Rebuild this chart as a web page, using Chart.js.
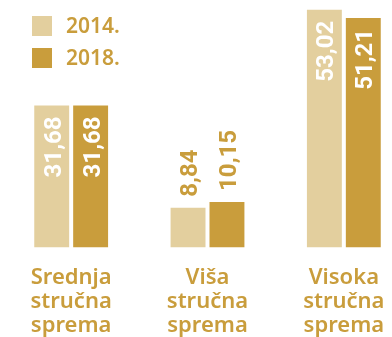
<!DOCTYPE html>
<html>
<head>
<meta charset="utf-8">
<script src="https://cdn.jsdelivr.net/npm/chart.js@4/dist/chart.umd.min.js"></script>
<style>
  html, body { margin: 0; padding: 0; background: #fff; overflow: hidden; }
  #wrap { position: relative; width: 412px; height: 356px; }
</style>
</head>
<body>
<div id="wrap"><canvas id="chart"></canvas></div>
<script>
const categories = [
  ['Srednja', 'stručna', 'sprema'],
  ['Viša', 'stručna', 'sprema'],
  ['Visoka', 'stručna', 'sprema']
];
const years = ['2014.', '2018.'];
const values2014 = [31.68, 8.84, 53.02];
const values2018 = [31.68, 10.15, 51.21];

const lightGold = '#e3cf9e';
const darkGold = '#c99d3c';

// values written with a decimal comma
const fmt = v => v.toFixed(2).replace('.', ',');

// rotated value labels: inside the bar when it is tall enough, above it otherwise
const valueLabels = {
  id: 'valueLabels',
  afterDatasetsDraw(chart) {
    const ctx = chart.ctx;
    ctx.save();
    ctx.font = 'bold 24px Roboto';
    ctx.textBaseline = 'alphabetic';
    chart.data.datasets.forEach((ds, di) => {
      const meta = chart.getDatasetMeta(di);
      meta.data.forEach((bar, i) => {
        const txt = fmt(ds.data[i]);
        const w = ctx.measureText(txt).width;
        const inside = (bar.base - bar.y) > w + 22;
        ctx.save();
        if (inside) {
          ctx.translate(bar.x + 9, bar.y + 11);
          ctx.rotate(-Math.PI / 2);
          ctx.textAlign = 'right';
          ctx.fillStyle = '#fff';
        } else {
          ctx.translate(bar.x + 9, bar.y - 11);
          ctx.rotate(-Math.PI / 2);
          ctx.textAlign = 'left';
          ctx.fillStyle = darkGold;
        }
        ctx.fillText(txt, 0, 0);
        ctx.restore();
      });
    });
    ctx.restore();
  }
};

// square swatch legend in the top-left corner
const cornerLegend = {
  id: 'cornerLegend',
  afterDraw(chart) {
    const ctx = chart.ctx;
    ctx.save();
    ctx.font = '600 21px "Noto Sans"';
    ctx.textBaseline = 'middle';
    chart.data.datasets.forEach((ds, i) => {
      const y = 16 + i * 32;
      ctx.fillStyle = ds.backgroundColor;
      ctx.fillRect(32, y, 20, 20);
      ctx.fillStyle = darkGold;
      ctx.fillText(ds.label, 66, y + 11);
    });
    ctx.restore();
  }
};

new Chart(document.getElementById('chart'), {
  type: 'bar',
  data: {
    labels: categories,
    datasets: [
      { label: years[0], data: values2014, backgroundColor: lightGold },
      { label: years[1], data: values2018, backgroundColor: darkGold }
    ]
  },
  options: {
    responsive: true,
    maintainAspectRatio: false,
    animation: false,
    layout: { padding: { left: 3, right: 0, top: 0, bottom: 0 } },
    datasets: {
      bar: { categoryPercentage: 0.571, barPercentage: 0.897 }
    },
    plugins: {
      legend: { display: false },
      tooltip: { enabled: false }
    },
    scales: {
      x: {
        grid: { display: false, drawTicks: false },
        border: { display: false },
        ticks: {
          padding: 18,
          color: darkGold,
          font: { family: 'Noto Sans', size: 22, weight: '600', lineHeight: 1.1 }
        }
      },
      y: {
        display: false,
        min: 0,
        max: 55.2
      }
    }
  },
  plugins: [valueLabels, cornerLegend]
});
</script>
</body>
</html>
